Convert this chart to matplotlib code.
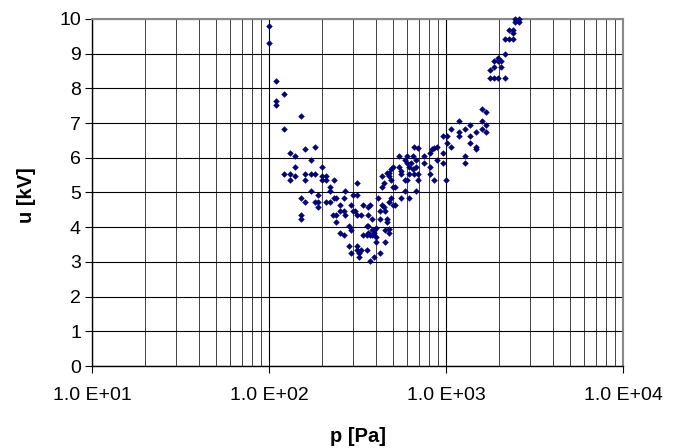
import math
import matplotlib
matplotlib.use("Agg")
import matplotlib.pyplot as plt
from matplotlib.ticker import LogLocator, FuncFormatter, MultipleLocator, NullFormatter

plt.rcParams['font.family'] = ['Liberation Sans', 'DejaVu Sans']

# pressure p [Pa] and voltage u [kV]
p = [100, 100, 110, 121.5, 110, 110, 151.6, 121.5, 130.8, 140.8,
     159.7, 181, 172, 140.8, 121.5, 130.8, 140.8, 130.8, 159.7, 172,
     181, 159.7, 200, 200, 210.8, 200, 210.8, 233, 172, 151.6,
     159.7, 181, 190, 190, 190, 210.8, 221, 221, 221, 233,
     239, 151.6, 151.6, 251, 264, 270, 231, 239, 251, 264,
     239, 270, 290, 300, 314, 314, 300, 306, 314, 331,
     338, 364, 372, 364, 382, 411, 422, 433, 444, 455,
     422, 466, 466, 477, 455, 478, 284, 290, 251, 264,
     284, 290, 314, 314, 322, 331, 322, 356, 338, 356,
     364, 372, 382, 356, 364, 382, 392, 402, 392, 402,
     402, 372, 392, 422, 455, 433, 444, 433, 466, 478,
     478, 492, 504, 492, 504, 517, 478, 492, 504, 517,
     540, 540, 557, 557, 587, 600, 600, 616, 616, 600,
     587, 557, 587, 616, 632, 649, 649, 662, 698, 680,
     680, 662, 698, 698, 680, 752, 752, 811, 833, 851,
     893, 811, 811, 851, 893, 961, 961, 961, 1013, 1013,
     1000, 1072, 1072, 1184, 1184, 1184, 1275, 1275, 1275, 1373,
     1373, 1373, 1477, 1477, 1477, 1597, 1683, 1597, 1597, 1683,
     1683, 1765, 1765, 1859, 1859, 1859, 1959, 1959, 1959, 2054,
     2054, 2154, 2154, 2154, 2271, 2271, 2393, 2393, 2393, 2443,
     2443, 2574, 2574]
u = [9.79, 9.31, 8.21, 7.84, 7.64, 7.51, 7.21, 6.84, 6.15, 6.06,
     6.25, 6.31, 5.94, 5.73, 5.52, 5.52, 5.47, 5.36, 5.52, 5.52,
     5.52, 5.36, 5.73, 5.47, 5.47, 5.36, 5.36, 5.36, 5.05, 4.84,
     4.73, 4.73, 4.93, 4.73, 4.57, 4.73, 4.73, 5.05, 5.15, 4.84,
     4.84, 4.36, 4.25, 4.63, 4.84, 5.04, 4.36, 4.36, 4.47, 4.47,
     4.14, 4.36, 4.63, 4.93, 4.93, 5.26, 4.47, 4.47, 4.36, 4.36,
     4.63, 4.57, 4.63, 4.36, 4.25, 4.84, 4.47, 4.63, 4.57, 4.47,
     4.25, 4.25, 4.14, 3.96, 3.93, 3.83, 4.04, 3.93, 3.83, 3.78,
     3.46, 3.25, 3.46, 3.35, 3.25, 3.35, 3.14, 3.35, 3.78, 3.78,
     3.83, 3.78, 3.78, 4.04, 4.04, 3.93, 3.93, 3.98, 3.83, 3.72,
     3.56, 3.04, 3.14, 3.25, 3.56, 5.15, 5.26, 5.47, 5.57, 5.57,
     5.47, 5.68, 5.73, 5.36, 5.15, 5.15, 4.73, 4.84, 4.63, 4.63,
     6.06, 5.73, 5.63, 5.52, 5.94, 6.06, 5.84, 5.73, 5.52, 5.36,
     5.36, 4.84, 5.05, 4.84, 5.84, 6.06, 5.68, 6.31, 6.27, 5.94,
     5.73, 5.52, 5.52, 5.36, 5.05, 6.06, 5.84, 6.15, 6.25, 6.27,
     6.31, 5.73, 5.52, 5.36, 5.94, 6.15, 5.84, 6.63, 6.63, 6.42,
     5.36, 6.84, 6.31, 7.05, 6.73, 6.63, 6.84, 6.06, 5.84, 6.94,
     6.63, 6.42, 6.73, 6.31, 6.26, 7.42, 7.31, 7.05, 6.84, 6.94,
     6.73, 8.53, 8.31, 8.79, 8.63, 8.31, 8.89, 8.79, 8.31, 8.79,
     8.63, 9.0, 8.31, 9.43, 9.69, 9.43, 9.69, 9.59, 9.43, 10.0,
     9.9, 10.0, 9.9]

fig = plt.figure(figsize=(6.78, 4.48), dpi=100)
ax = fig.add_axes([92/678, 1 - 366/448, (623-92)/678, (366-19)/448])

ax.scatter(p, u, marker="D", s=11, color="#000080", linewidths=0, zorder=3, clip_on=False)

ax.set_xscale("log")
ax.set_xlim(10, 10000)
ax.set_ylim(0, 10)

ax.xaxis.set_major_locator(LogLocator(base=10))
ax.xaxis.set_minor_locator(LogLocator(base=10, subs=range(2, 10)))
ax.xaxis.set_minor_formatter(NullFormatter())
ax.xaxis.set_major_formatter(FuncFormatter(lambda v, pos: "1.0 E+%02d" % round(math.log10(v))))
ax.yaxis.set_major_locator(MultipleLocator(1))

# Excel-like gridlines: black major, dark grey minor (x only)
ax.grid(True, which="major", axis="both", color="black", linewidth=0.8)
ax.grid(True, which="minor", axis="x", color="#404040", linewidth=0.7)
ax.set_axisbelow(True)

ax.tick_params(axis="both", which="major", direction="out", length=5, width=0.8,
               labelsize=14, colors="black")
ax.tick_params(axis="x", which="minor", length=0)
ax.tick_params(axis="x", pad=10)
ax.tick_params(axis="y", pad=3)

for side in ("top", "right"):
    ax.spines[side].set_color("#888888")
    ax.spines[side].set_linewidth(1.5)
for side in ("left", "bottom"):
    ax.spines[side].set_color("black")
    ax.spines[side].set_linewidth(1.0)

fig.text(358/678, 1 - 436/448, "p [Pa]", ha="center", va="center",
         fontsize=14.5, fontweight="bold")
fig.text(27/678, 1 - 195/448, "u [kV]", ha="center", va="center",
         fontsize=14.5, fontweight="bold", rotation=90)

fig.savefig("out.png", dpi=100)
